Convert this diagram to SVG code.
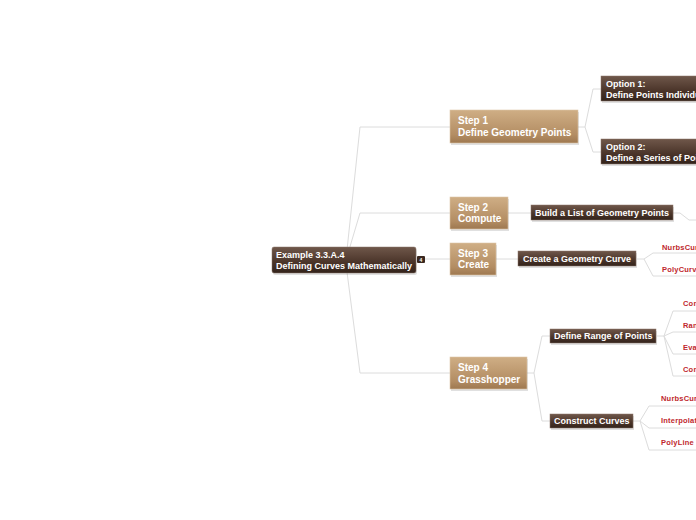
<svg xmlns="http://www.w3.org/2000/svg" width="696" height="520" viewBox="0 0 696 520">
<defs>
<linearGradient id="tan" x1="0" y1="0" x2="0" y2="1">
<stop offset="0" stop-color="#cfae85"/>
<stop offset="0.75" stop-color="#b38d63"/>
<stop offset="1" stop-color="#9e7850"/>
</linearGradient>
<linearGradient id="dark" x1="0" y1="0" x2="0" y2="1">
<stop offset="0" stop-color="#6f574a"/>
<stop offset="0.6" stop-color="#4a3429"/>
<stop offset="1" stop-color="#33231b"/>
</linearGradient>
<style>
.con{fill:none;stroke:#dcdcdc;stroke-width:1}
.tan{fill:url(#tan);stroke:#dcc6a8;stroke-width:0.6}
.dark{fill:url(#dark);stroke:#8a7468;stroke-width:0.5}
.sh{fill:#000;opacity:0.12}
.t{font-family:"Liberation Sans",Arial,sans-serif;font-weight:bold;fill:#ffffff}
.t10{font-size:10px}
.t9{font-size:9px}
.leaf{font-family:"Liberation Sans",Arial,sans-serif;font-weight:bold;font-size:7.5px;letter-spacing:0.2px;fill:#c0272d}
</style>
</defs>
<rect width="696" height="520" fill="#ffffff"/>
<g id="connectors">
<path class="con" d="M347,250 L360,127 L450,127"/>
<path class="con" d="M349,250 L360,213 L450,213"/>
<path class="con" d="M425,259 L450,259"/>
<path class="con" d="M347,272 L360,373 L450,373"/>
<path class="con" d="M578,127 L585,127 L593,89 L601,89"/>
<path class="con" d="M585,127 L593,152 L601,152"/>
<path class="con" d="M508,213 L531,213"/>
<path class="con" d="M673,213 L680,213 L689,220 L696,220"/>
<path class="con" d="M496,259 L518,259"/>
<path class="con" d="M637,259 L644,259 L653,253 L696,253"/>
<path class="con" d="M644,259 L653,276 L696,276"/>
<path class="con" d="M527,373 L534,373 L542,336 L550,336"/>
<path class="con" d="M534,373 L542,421 L550,421"/>
<path class="con" d="M657,336 L664,336 L673,311 L696,311"/>
<path class="con" d="M664,336 L673,332 L696,332"/>
<path class="con" d="M664,336 L673,354 L696,354"/>
<path class="con" d="M664,336 L673,376 L696,376"/>
<path class="con" d="M633,421 L640,421 L649,406 L696,406"/>
<path class="con" d="M640,421 L649,428 L696,428"/>
<path class="con" d="M640,421 L649,450 L696,450"/>
</g>
<g id="root">
<rect class="sh" x="273" y="249" width="144" height="26" rx="2"/>
<rect class="dark" x="272" y="247" width="144" height="26" rx="2"/>
<text class="t t9" x="276" y="258">Example 3.3.A.4</text>
<text class="t t9" x="276" y="269">Defining Curves Mathematically</text>
<rect x="417" y="256" width="8" height="7" rx="1" fill="#3a2820"/>
<text x="421" y="262" font-family="Liberation Sans,Arial,sans-serif" font-size="5" font-weight="bold" fill="#ffffff" text-anchor="middle">4</text>
</g>
<g id="step1">
<rect class="sh" x="451" y="112" width="128" height="33"/>
<rect class="tan" x="450" y="110" width="128" height="33"/>
<text class="t t10" x="458" y="124">Step 1</text>
<text class="t t10" x="458" y="136">Define Geometry Points</text>
</g>
<g id="option1">
<rect class="sh" x="602" y="78" width="120" height="25"/>
<rect class="dark" x="601" y="76" width="120" height="25"/>
<text class="t t9" x="606" y="87">Option 1:</text>
<text class="t t9" x="606" y="98">Define Points Individually</text>
</g>
<g id="option2">
<rect class="sh" x="602" y="141" width="120" height="25"/>
<rect class="dark" x="601" y="139" width="120" height="25"/>
<text class="t t9" x="606" y="150">Option 2:</text>
<text class="t t9" x="606" y="161">Define a Series of Points</text>
</g>
<g id="step2">
<rect class="sh" x="451" y="199" width="58" height="32"/>
<rect class="tan" x="450" y="197" width="58" height="32"/>
<text class="t t10" x="458" y="211">Step 2</text>
<text class="t t10" x="458" y="222">Compute</text>
</g>
<g id="buildlist">
<rect class="sh" x="532" y="207" width="142" height="15"/>
<rect class="dark" x="531" y="205" width="142" height="15"/>
<text class="t t9" x="535" y="216">Build a List of Geometry Points</text>
</g>
<g id="step3">
<rect class="sh" x="451" y="245" width="46" height="32"/>
<rect class="tan" x="450" y="243" width="46" height="32"/>
<text class="t t10" x="458" y="257">Step 3</text>
<text class="t t10" x="458" y="268">Create</text>
</g>
<g id="createcurve">
<rect class="sh" x="519" y="253" width="118" height="15"/>
<rect class="dark" x="518" y="251" width="118" height="15"/>
<text class="t t9" x="523" y="262">Create a Geometry Curve</text>
</g>
<g id="leaf-nurbs3"><text class="leaf" x="662" y="250">NurbsCurve</text></g>
<g id="leaf-polycurve"><text class="leaf" x="662" y="272">PolyCurve</text></g>
<g id="step4">
<rect class="sh" x="451" y="359" width="77" height="32"/>
<rect class="tan" x="450" y="357" width="77" height="32"/>
<text class="t t10" x="458" y="371">Step 4</text>
<text class="t t10" x="458" y="383">Grasshopper</text>
</g>
<g id="rangepoints">
<rect class="sh" x="551" y="331" width="106" height="14"/>
<rect class="dark" x="550" y="329" width="106" height="14"/>
<text class="t t9" x="554" y="339">Define Range of Points</text>
</g>
<g id="leaf-con1"><text class="leaf" x="683" y="306">Construct Domain</text></g>
<g id="leaf-range"><text class="leaf" x="683" y="328">Range</text></g>
<g id="leaf-eval"><text class="leaf" x="683" y="350">Evaluate Curve</text></g>
<g id="leaf-con2"><text class="leaf" x="683" y="372">Construct Point</text></g>
<g id="constructcurves">
<rect class="sh" x="551" y="416" width="83" height="14"/>
<rect class="dark" x="550" y="414" width="83" height="14"/>
<text class="t t9" x="554" y="424">Construct Curves</text>
</g>
<g id="leaf-nurbs4"><text class="leaf" x="661" y="401">NurbsCurve</text></g>
<g id="leaf-interp"><text class="leaf" x="661" y="423">Interpolate</text></g>
<g id="leaf-polyline"><text class="leaf" x="661" y="445">PolyLine</text></g>
</svg>
